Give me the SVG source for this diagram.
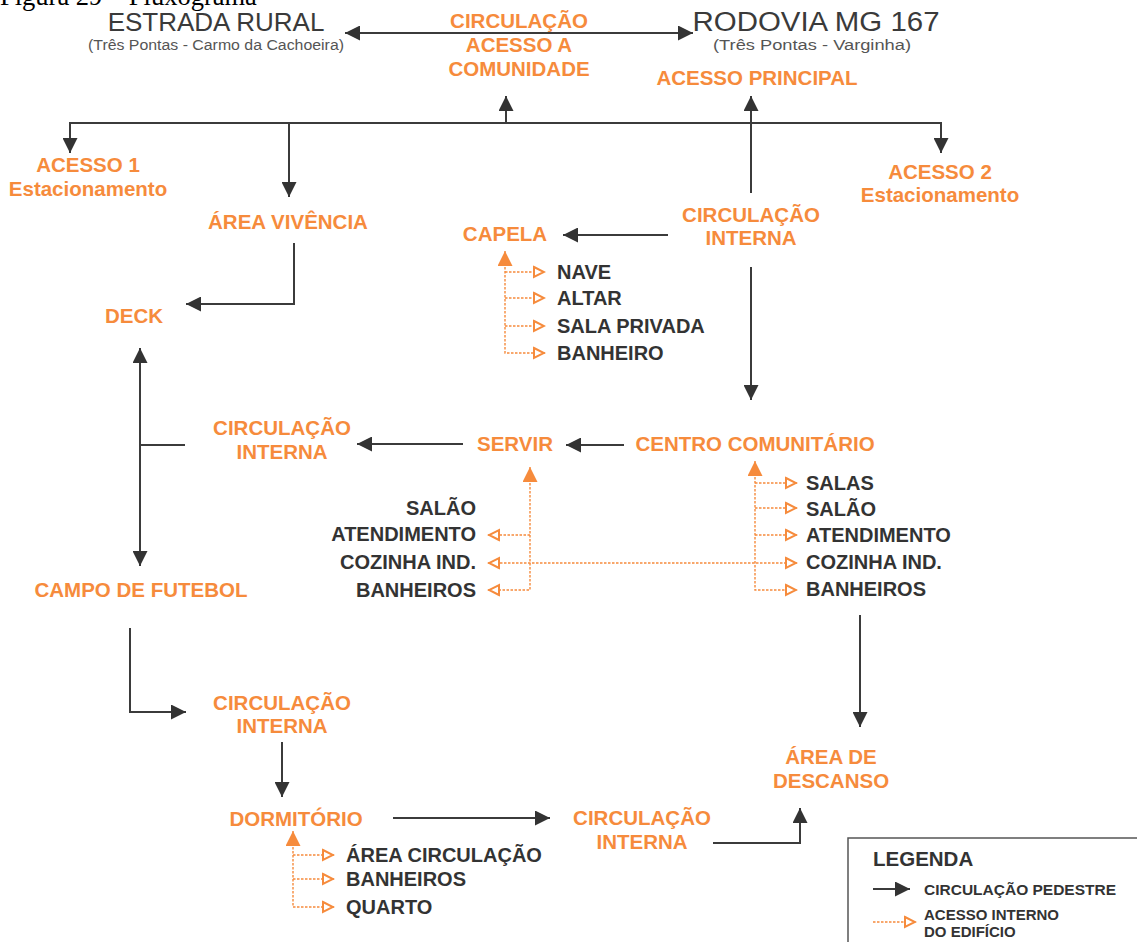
<svg xmlns="http://www.w3.org/2000/svg" width="1137" height="942" viewBox="0 0 1137 942">
<style>
text{font-family:"Liberation Sans",Arial,sans-serif}
.o{font-weight:bold;font-size:20.5px;fill:#F68B3C;text-anchor:middle}
.d{font-weight:bold;font-size:20px;fill:#333}
.r{text-anchor:end}
.road{font-size:26px;fill:#3a3a3a;text-anchor:middle}
.sub{font-size:15.5px;fill:#555;text-anchor:middle}
.ln{fill:none;stroke:#3b3b3b;stroke-width:2}
.dt{fill:none;stroke:#F68B3C;stroke-width:1.4;stroke-dasharray:2.5,1.5}
</style>
<defs>
<marker id="a" viewBox="0 0 15 15" refX="15" refY="7.5" markerWidth="15" markerHeight="15" markerUnits="userSpaceOnUse" orient="auto-start-reverse"><path d="M0,0 L15,7.5 L0,15 z" fill="#333"/></marker>
<marker id="f" viewBox="0 0 15 15" refX="15" refY="7.5" markerWidth="15" markerHeight="15" markerUnits="userSpaceOnUse" orient="auto-start-reverse"><path d="M0,0 L15,7.5 L0,15 z" fill="#F68B3C"/></marker>
<marker id="h" viewBox="0 0 14 14" refX="13" refY="7" markerWidth="14" markerHeight="14" markerUnits="userSpaceOnUse" orient="auto-start-reverse"><path d="M2,2 L12,7 L2,12 z" fill="#fff" stroke="#F68B3C" stroke-width="2"/></marker>
</defs>
<rect width="1137" height="942" fill="#fff"/>
<text x="0" y="5" style="font-family:'Liberation Serif','Times New Roman',serif;font-size:26.5px;fill:#000">Figura 29 – Fluxograma</text>

<g id="connectors">
<path class="ln" d="M345,33 H693" marker-start="url(#a)" marker-end="url(#a)"/>
<path class="ln" d="M70,153 V123 H941 V153" marker-start="url(#a)" marker-end="url(#a)"/>
<path class="ln" d="M289,123 V197" marker-end="url(#a)"/>
<path class="ln" d="M506,123 V96" marker-end="url(#a)"/>
<path class="ln" d="M751,193 V96" marker-end="url(#a)"/>
<path class="ln" d="M294,243 V304 H186" marker-end="url(#a)"/>
<path class="ln" d="M668,235 H563" marker-end="url(#a)"/>
<path class="ln" d="M751,267 V400" marker-end="url(#a)"/>
<path class="ln" d="M140,348 V566" marker-start="url(#a)" marker-end="url(#a)"/>
<path class="ln" d="M140,445 H185"/>
<path class="ln" d="M624,445 H566" marker-end="url(#a)"/>
<path class="ln" d="M463,444 H357" marker-end="url(#a)"/>
<path class="ln" d="M860,615 V727" marker-end="url(#a)"/>
<path class="ln" d="M130,628 V712 H186" marker-end="url(#a)"/>
<path class="ln" d="M282,742 V797" marker-end="url(#a)"/>
<path class="ln" d="M393,818 H550" marker-end="url(#a)"/>
<path class="ln" d="M713,843 H800 V808" marker-end="url(#a)"/>
<path class="dt" d="M505,251 V353 H545" marker-start="url(#f)" marker-end="url(#h)"/>
<path class="dt" d="M505,272 H545" marker-end="url(#h)"/>
<path class="dt" d="M505,298 H545" marker-end="url(#h)"/>
<path class="dt" d="M505,326 H545" marker-end="url(#h)"/>
<path class="dt" d="M530,467 V590 H488" marker-start="url(#f)" marker-end="url(#h)"/>
<path class="dt" d="M530,535 H488" marker-end="url(#h)"/>
<path class="dt" d="M488,563 H797" marker-start="url(#h)" marker-end="url(#h)"/>
<path class="dt" d="M755,461 V590 H797" marker-start="url(#f)" marker-end="url(#h)"/>
<path class="dt" d="M755,483 H797" marker-end="url(#h)"/>
<path class="dt" d="M755,508 H797" marker-end="url(#h)"/>
<path class="dt" d="M755,535 H797" marker-end="url(#h)"/>
<path class="dt" d="M293,831 V907 H334" marker-start="url(#f)" marker-end="url(#h)"/>
<path class="dt" d="M293,855 H334" marker-end="url(#h)"/>
<path class="dt" d="M293,879 H334" marker-end="url(#h)"/>
</g>

<g id="estrada-rural"><text class="road" x="216" y="31">ESTRADA RURAL</text><text class="sub" x="216" y="50" textLength="256" lengthAdjust="spacingAndGlyphs">(Três Pontas - Carmo da Cachoeira)</text></g>
<g id="rodovia"><text class="road" x="816" y="31" style="font-size:27px" textLength="247" lengthAdjust="spacingAndGlyphs">RODOVIA MG 167</text><text class="sub" x="812" y="50" textLength="198" lengthAdjust="spacingAndGlyphs">(Três Pontas - Varginha)</text></g>
<g id="circ-acesso"><text class="o" x="519" y="28">CIRCULAÇÃO</text><text class="o" x="519" y="52">ACESSO A</text><text class="o" x="519" y="76">COMUNIDADE</text></g>
<g id="acesso-principal"><text class="o" x="757" y="85">ACESSO PRINCIPAL</text></g>
<g id="acesso1"><text class="o" x="88" y="172">ACESSO 1</text><text class="o" x="88" y="196">Estacionamento</text></g>
<g id="acesso2"><text class="o" x="940" y="179">ACESSO 2</text><text class="o" x="940" y="202">Estacionamento</text></g>
<g id="area-vivencia"><text class="o" x="288" y="229">ÁREA VIVÊNCIA</text></g>
<g id="circ-interna-1"><text class="o" x="751" y="222">CIRCULAÇÃO</text><text class="o" x="751" y="245">INTERNA</text></g>
<g id="capela"><text class="o" x="505" y="241">CAPELA</text>
<text class="d" x="557" y="279">NAVE</text><text class="d" x="557" y="305">ALTAR</text><text class="d" x="557" y="333">SALA PRIVADA</text><text class="d" x="557" y="360">BANHEIRO</text></g>
<g id="deck"><text class="o" x="134" y="323">DECK</text></g>
<g id="circ-interna-2"><text class="o" x="282" y="435">CIRCULAÇÃO</text><text class="o" x="282" y="459">INTERNA</text></g>
<g id="servir"><text class="o" x="515" y="451">SERVIR</text>
<text class="d r" x="476" y="515">SALÃO</text><text class="d r" x="476" y="541">ATENDIMENTO</text><text class="d r" x="476" y="569">COZINHA IND.</text><text class="d r" x="476" y="597">BANHEIROS</text></g>
<g id="centro"><text class="o" x="755" y="451">CENTRO COMUNITÁRIO</text>
<text class="d" x="806" y="490">SALAS</text><text class="d" x="806" y="516">SALÃO</text><text class="d" x="806" y="542">ATENDIMENTO</text><text class="d" x="806" y="569">COZINHA IND.</text><text class="d" x="806" y="596">BANHEIROS</text></g>
<g id="campo"><text class="o" x="141" y="597">CAMPO DE FUTEBOL</text></g>
<g id="circ-interna-3"><text class="o" x="282" y="710">CIRCULAÇÃO</text><text class="o" x="282" y="733">INTERNA</text></g>
<g id="dormitorio"><text class="o" x="296" y="826">DORMITÓRIO</text>
<text class="d" x="346" y="862">ÁREA CIRCULAÇÃO</text><text class="d" x="346" y="886">BANHEIROS</text><text class="d" x="346" y="914">QUARTO</text></g>
<g id="circ-interna-4"><text class="o" x="642" y="825">CIRCULAÇÃO</text><text class="o" x="642" y="849">INTERNA</text></g>
<g id="area-descanso"><text class="o" x="831" y="764">ÁREA DE</text><text class="o" x="831" y="788">DESCANSO</text></g>
<g id="legenda">
<rect x="848" y="838" width="300" height="120" fill="none" stroke="#555" stroke-width="1.5"/>
<text x="873" y="866" style="font-weight:bold;font-size:20.5px;fill:#333">LEGENDA</text>
<path class="ln" d="M873,889 H910" marker-end="url(#a)"/>
<text x="924" y="895" style="font-weight:bold;font-size:15.5px;fill:#333">CIRCULAÇÃO PEDESTRE</text>
<path class="dt" d="M873,922 H916" marker-end="url(#h)"/>
<text x="924" y="920" style="font-weight:bold;font-size:15px;fill:#333">ACESSO INTERNO</text>
<text x="924" y="937" style="font-weight:bold;font-size:15px;fill:#333">DO EDIFÍCIO</text>
</g>
</svg>
